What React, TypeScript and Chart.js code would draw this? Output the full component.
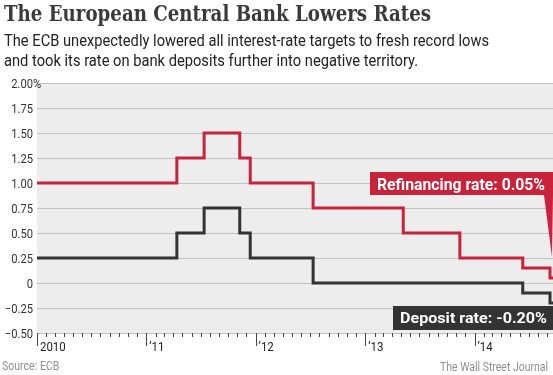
import React, { useEffect, useRef } from "react";
import { Chart, registerables } from "chart.js";

Chart.register(...registerables);

const TITLE = "The European Central Bank Lowers Rates";
const SUBTITLE_LINES = [
  "The ECB unexpectedly lowered all interest-rate targets to fresh record lows",
  "and took its rate on bank deposits further into negative territory.",
];
const SOURCE = "Source: ECB";
const CREDIT = "The Wall Street Journal";

const REFI_LABEL = "Refinancing rate: 0.05%";
const DEPOSIT_LABEL = "Deposit rate: -0.20%";

const START_DATE = "2010-01-01";
const END_DATE = "2014-09-20";

const refiDates = [
  "2010-01-01", "2011-04-13", "2011-07-13", "2011-11-09", "2011-12-14",
  "2012-07-11", "2013-05-08", "2013-11-13", "2014-06-11", "2014-09-10", "2014-09-20",
];
const refiValues = [1.0, 1.25, 1.5, 1.25, 1.0, 0.75, 0.5, 0.25, 0.15, 0.05, 0.05];

const depositDates = [
  "2010-01-01", "2011-04-13", "2011-07-13", "2011-11-09", "2011-12-14",
  "2012-07-11", "2014-06-11", "2014-09-10", "2014-09-20",
];
const depositValues = [0.25, 0.5, 0.75, 0.5, 0.25, 0.0, -0.1, -0.2, -0.2];

const yTickValues = [2.0, 1.75, 1.5, 1.25, 1.0, 0.75, 0.5, 0.25, 0, -0.25, -0.5];
const yTickLabels = ["2.00", "1.75", "1.50", "1.25", "1.00", "0.75", "0.50", "0.25", "0", "\u22120.25", "\u22120.50"];

const yearStarts = ["2010-01-01", "2011-01-01", "2012-01-01", "2013-01-01", "2014-01-01"];
const yearLabels = ["2010", "\u201911", "\u201912", "\u201913", "\u201914"];

const RED = "#c8233a";
const DARK = "#333333";

const dayOf = (s: string) => (Date.parse(s) - Date.parse(START_DATE)) / 86400000;

function drawText(
  ctx: CanvasRenderingContext2D,
  str: string,
  x: number,
  y: number,
  font: string,
  color: string,
  opts: { width?: number; factor?: number; align?: "left" | "right"; baseline?: CanvasTextBaseline } = {}
) {
  ctx.save();
  ctx.font = font;
  ctx.fillStyle = color;
  ctx.textBaseline = opts.baseline || "alphabetic";
  ctx.textAlign = "left";
  const w = ctx.measureText(str).width;
  let f = opts.factor ?? 1;
  if (opts.width) f = opts.width / w;
  const x0 = opts.align === "right" ? x - w * f : x;
  ctx.translate(x0, y);
  ctx.scale(f, 1);
  ctx.fillText(str, 0, 0);
  ctx.restore();
  return f;
}

const decorPlugin = {
  id: "decor",
  beforeDraw(chart: any) {
    const { ctx, chartArea } = chart;
    ctx.save();
    ctx.fillStyle = "#ffffff";
    ctx.fillRect(0, 0, chart.width, chart.height);
    ctx.fillStyle = "#ededed";
    ctx.fillRect(chartArea.left, chartArea.top, chartArea.right - chartArea.left, chartArea.bottom - chartArea.top);
    ctx.restore();
  },
  afterDraw(chart: any) {
    const { ctx, chartArea } = chart;
    const xs = chart.scales.x;
    const ys = chart.scales.y;
    const bottom = chartArea.bottom;

    // Title and subtitle
    drawText(ctx, TITLE, 4, 21, 'bold 23px "DejaVu Serif"', "#3a3a3a", { width: 427 });
    const f = drawText(ctx, SUBTITLE_LINES[0], 4, 46, "17px Roboto", "#222222", { width: 485 });
    drawText(ctx, SUBTITLE_LINES[1], 4, 66, "17px Roboto", "#222222", { factor: f });

    // Y tick labels
    yTickValues.forEach((v, i) => {
      const py = ys.getPixelForValue(v);
      drawText(ctx, yTickLabels[i], chartArea.left - 4, py + 4.5, "13px Roboto", "#333333", {
        factor: 0.86,
        align: "right",
      });
      if (i === 0) {
        drawText(ctx, "%", chartArea.left - 4, py + 4.5, "13px Roboto", "#333333", { factor: 0.86 });
      }
    });

    // X axis ticks: monthly minor, yearly major
    ctx.save();
    ctx.strokeStyle = "#444444";
    ctx.lineWidth = 1;
    for (let yr = 2010; yr <= 2014; yr++) {
      for (let m = 0; m < 12; m++) {
        const d = `${yr}-${String(m + 1).padStart(2, "0")}-01`;
        const v = dayOf(d);
        if (v > xs.max) continue;
        const px = Math.round(xs.getPixelForValue(v)) + 0.5;
        ctx.beginPath();
        ctx.moveTo(px, bottom);
        ctx.lineTo(px, bottom + (m === 0 ? 13 : 4));
        ctx.stroke();
      }
    }
    ctx.restore();
    yearStarts.forEach((d, i) => {
      const px = xs.getPixelForValue(dayOf(d));
      drawText(ctx, yearLabels[i], px + 3, bottom + 18, "13px Roboto", "#222222", { factor: 0.88 });
    });

    // Source and credit
    drawText(ctx, SOURCE, 2, 370, "12px Roboto", "#8f8f8f", { factor: 0.88 });
    drawText(ctx, CREDIT, 548, 371, "12px Roboto", "#8f8f8f", { width: 108, align: "right" });

    // Refinancing label with pointer
    const R = chartArea.right;
    const tipX = xs.getPixelForValue(dayOf(refiDates[refiDates.length - 2]));
    const tipY = ys.getPixelForValue(refiValues[refiValues.length - 3]) - 11;
    ctx.save();
    ctx.fillStyle = RED;
    ctx.fillRect(370, 172, R - 370, 23);
    ctx.beginPath();
    ctx.moveTo(R - 9, 195);
    ctx.lineTo(R, 195);
    ctx.lineTo(Math.min(R, tipX + 2), tipY);
    ctx.closePath();
    ctx.fill();
    ctx.restore();
    drawText(ctx, REFI_LABEL, 377, 190, "bold 16px Roboto", "#ffffff", { width: 168 });

    // Deposit label
    ctx.save();
    ctx.fillStyle = DARK;
    ctx.fillRect(393, 306, R - 393, 24);
    ctx.restore();
    drawText(ctx, DEPOSIT_LABEL, 400, 323, "bold 15.5px Roboto", "#ffffff", { width: 147 });
  },
};

export default function App() {
  const ref = useRef<HTMLCanvasElement>(null);
  useEffect(() => {
    if (!ref.current) return;
    const chart = new Chart(ref.current, {
      type: "line",
      data: {
        datasets: [
          {
            label: "Deposit rate",
            data: depositDates.map((d, i) => ({ x: dayOf(d), y: depositValues[i] })),
            stepped: true,
            borderColor: DARK,
            borderWidth: 3,
            pointRadius: 0,
            fill: false,
          },
          {
            label: "Refinancing rate",
            data: refiDates.map((d, i) => ({ x: dayOf(d), y: refiValues[i] })),
            stepped: true,
            borderColor: RED,
            borderWidth: 3,
            pointRadius: 0,
            fill: false,
          },
        ],
      },
      options: {
        animation: false,
        responsive: false,
        devicePixelRatio: 1,
        layout: { padding: { top: 83, bottom: 42, left: 0, right: 0 } },
        plugins: { legend: { display: false }, tooltip: { enabled: false }, title: { display: false } },
        scales: {
          x: {
            type: "linear",
            min: 0,
            max: dayOf(END_DATE),
            display: false,
          },
          y: {
            min: -0.5,
            max: 2.0,
            afterBuildTicks: (scale: any) => {
              scale.ticks = yTickValues.map((v) => ({ value: v }));
            },
            afterFit: (scale: any) => {
              scale.width = 37;
            },
            ticks: { display: false },
            grid: { color: "#c2c2c2", lineWidth: 1, drawTicks: false },
            border: { display: false },
          },
        },
      },
      plugins: [decorPlugin],
    });
    return () => chart.destroy();
  }, []);
  return (
    <div style={{ position: "absolute", left: 0, top: 0, width: 553, height: 375 }}>
      <canvas ref={ref} width={553} height={375} />
    </div>
  );
}
